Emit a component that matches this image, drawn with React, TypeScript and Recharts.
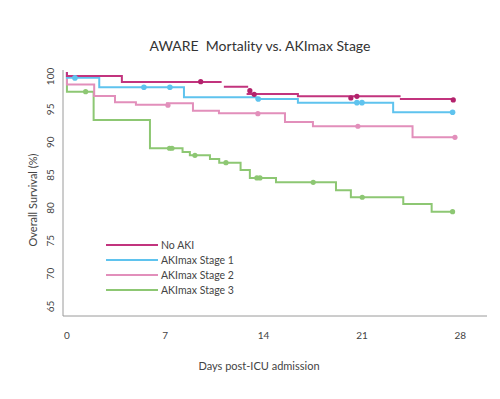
import React from "react";
import { ComposedChart, Line, Scatter, XAxis, YAxis } from "recharts";

// Step change points (day, survival %) per group; null breaks the line
const noAki = [
  { day: 0, v: 100 },
  { day: 0, v: 99.39 },
  { day: 3.91, v: 98.48 },
  { day: 11.01, v: 98.48 },
  { day: 11.09, v: null },
  { day: 11.17, v: 97.76 },
  { day: 12.9, v: 97.76 },
  { day: 12.85, v: null },
  { day: 12.79, v: 96.65 },
  { day: 16.44, v: 96.3 },
  { day: 23.75, v: 96.3 },
  { day: 23.72, v: null },
  { day: 23.7, v: 95.89 },
  { day: 27.47, v: 95.89 },
];
const stage1 = [
  { day: 0, v: 100 },
  { day: 0, v: 99.13 },
  { day: 2.3, v: 97.67 },
  { day: 8.33, v: 96.15 },
  { day: 13.5, v: 95.89 },
  { day: 16.44, v: 95.33 },
  { day: 23.22, v: 93.87 },
  { day: 27.45, v: 93.87 },
];
const stage2 = [
  { day: 0, v: 100 },
  { day: 0, v: 98.08 },
  { day: 1.94, v: 96.35 },
  { day: 3.42, v: 95.39 },
  { day: 4.91, v: 95.02 },
  { day: 7.12, v: 95.24 },
  { day: 8.97, v: 94.11 },
  { day: 10.82, v: 93.71 },
  { day: 15.52, v: 92.39 },
  { day: 17.51, v: 91.74 },
  { day: 24.6, v: 90.06 },
  { day: 27.62, v: 90.06 },
];
const stage3 = [
  { day: 0, v: 100 },
  { day: 0, v: 97.0 },
  { day: 1.9, v: 92.69 },
  { day: 5.91, v: 88.39 },
  { day: 8.23, v: 87.82 },
  { day: 8.75, v: 87.32 },
  { day: 10.18, v: 86.76 },
  { day: 10.84, v: 86.2 },
  { day: 12.36, v: 85.08 },
  { day: 13.02, v: 83.87 },
  { day: 14.88, v: 83.21 },
  { day: 19.15, v: 82.0 },
  { day: 20.21, v: 80.93 },
  { day: 23.94, v: 79.91 },
  { day: 25.96, v: 78.74 },
  { day: 27.45, v: 78.74 },
];

// Censor marks
const noAkiCens = [
  { day: 9.52, v: 98.52 },
  { day: 13.02, v: 97.15 },
  { day: 13.33, v: 96.6 },
  { day: 20.21, v: 96.05 },
  { day: 20.64, v: 96.3 },
  { day: 27.5, v: 95.75 },
];
const stage1Cens = [
  { day: 0.57, v: 99.1 },
  { day: 5.48, v: 97.67 },
  { day: 7.33, v: 97.67 },
  { day: 13.62, v: 95.89 },
  { day: 20.64, v: 95.33 },
  { day: 21.0, v: 95.33 },
  { day: 27.45, v: 93.87 },
];
const stage2Cens = [
  { day: 7.19, v: 94.95 },
  { day: 13.59, v: 93.65 },
  { day: 20.71, v: 91.74 },
  { day: 27.62, v: 90.06 },
];
const stage3Cens = [
  { day: 1.33, v: 97.0 },
  { day: 7.3, v: 88.39 },
  { day: 7.48, v: 88.39 },
  { day: 9.11, v: 87.32 },
  { day: 11.32, v: 86.2 },
  { day: 13.52, v: 83.87 },
  { day: 13.74, v: 83.87 },
  { day: 17.53, v: 83.21 },
  { day: 21.02, v: 80.93 },
  { day: 27.45, v: 78.74 },
];

const seriesNames = ["No AKI", "AKImax Stage 1", "AKImax Stage 2", "AKImax Stage 3"];
const xTicks = [0, 7, 14, 21, 28];
const yTicks = [65, 70, 75, 80, 85, 90, 95, 100];

const C_NO = "#c2347e";
const C_NO_DOT = "#b3226c";
const C_S1 = "#5fc3ee";
const C_S2 = "#e28fbb";
const C_S3 = "#8dc773";
const colors = [C_NO, C_S1, C_S2, C_S3];
const FONT = "Lato, 'Open Sans', sans-serif";

const XTick = (props: any) => {
  const { x, y, payload } = props;
  return (
    <text x={x} y={y + 15} textAnchor="middle" fontSize={10} fill="#444" fontFamily={FONT}>
      {payload.value}
    </text>
  );
};

const YTick = (props: any) => {
  const { x, y, payload } = props;
  const tx = x - 0.5;
  const ty = y + 4.5;
  return (
    <text x={tx} y={ty} textAnchor="middle" fontSize={10} fill="#444" fontFamily={FONT}
      transform={`rotate(-90, ${tx}, ${ty})`}>
      {payload.value}
    </text>
  );
};

const Dot = (color: string, r: number) => (props: any) => {
  const { cx, cy } = props;
  return <circle cx={cx} cy={cy} r={r} fill={color} stroke="none" />;
};

export default function App() {
  return (
    <div style={{ position: "absolute", left: 0, top: 0, width: 500, height: 399, background: "#fff" }}>
      <ComposedChart width={500} height={399} margin={{ top: 70, right: 13, bottom: 53, left: 33 }}>
        <XAxis
          type="number"
          dataKey="day"
          domain={[-0.28, 29.9]}
          ticks={xTicks}
          allowDataOverflow
          tickLine={false}
          axisLine={{ stroke: "#9a9a9a", strokeWidth: 1 }}
          tick={<XTick />}
          height={30}
        />
        <YAxis
          type="number"
          dataKey="v"
          domain={[62.86, 100.3]}
          ticks={yTicks}
          allowDataOverflow
          tickLine={false}
          axisLine={{ stroke: "#9a9a9a", strokeWidth: 1 }}
          tick={<YTick />}
          width={30}
        />
        <Line data={stage3} dataKey="v" type="stepAfter" stroke={C_S3} strokeWidth={2} dot={false} isAnimationActive={false} connectNulls={false} name={seriesNames[3]} />
        <Line data={stage2} dataKey="v" type="stepAfter" stroke={C_S2} strokeWidth={2} dot={false} isAnimationActive={false} connectNulls={false} name={seriesNames[2]} />
        <Line data={stage1} dataKey="v" type="stepAfter" stroke={C_S1} strokeWidth={2} dot={false} isAnimationActive={false} connectNulls={false} name={seriesNames[1]} />
        <Line data={noAki} dataKey="v" type="stepAfter" stroke={C_NO} strokeWidth={2} dot={false} isAnimationActive={false} connectNulls={false} name={seriesNames[0]} />
        <Scatter data={stage3Cens} dataKey="v" shape={Dot(C_S3, 2.6)} isAnimationActive={false} />
        <Scatter data={stage2Cens} dataKey="v" shape={Dot(C_S2, 2.6)} isAnimationActive={false} />
        <Scatter data={stage1Cens} dataKey="v" shape={Dot(C_S1, 2.8)} isAnimationActive={false} />
        <Scatter data={noAkiCens} dataKey="v" shape={Dot(C_NO_DOT, 2.6)} isAnimationActive={false} />
        <g>
          {seriesNames.map((n, i) => (
            <g key={n}>
              <line x1={106} x2={158} y1={245 + i * 15} y2={245 + i * 15} stroke={colors[i]} strokeWidth={2} />
              <text x={161} y={245 + i * 15} dominantBaseline="central" fontSize={10.5} fill="#444" fontFamily={FONT}>
                {n}
              </text>
            </g>
          ))}
        </g>
        <text x={260} y={45} textAnchor="middle" dominantBaseline="central" fontSize={14} fill="#333" fontFamily={FONT}
          style={{ whiteSpace: "pre" }}>
          {"AWARE  Mortality vs. AKImax Stage"}
        </text>
        <text x={259} y={365} textAnchor="middle" dominantBaseline="central" fontSize={11} fill="#444" fontFamily={FONT}>
          Days post-ICU admission
        </text>
        <text x={32} y={200} textAnchor="middle" dominantBaseline="central" fontSize={11} fill="#444" fontFamily={FONT}
          transform="rotate(-90, 32, 200)">
          Overall Survival (%)
        </text>
      </ComposedChart>
    </div>
  );
}
